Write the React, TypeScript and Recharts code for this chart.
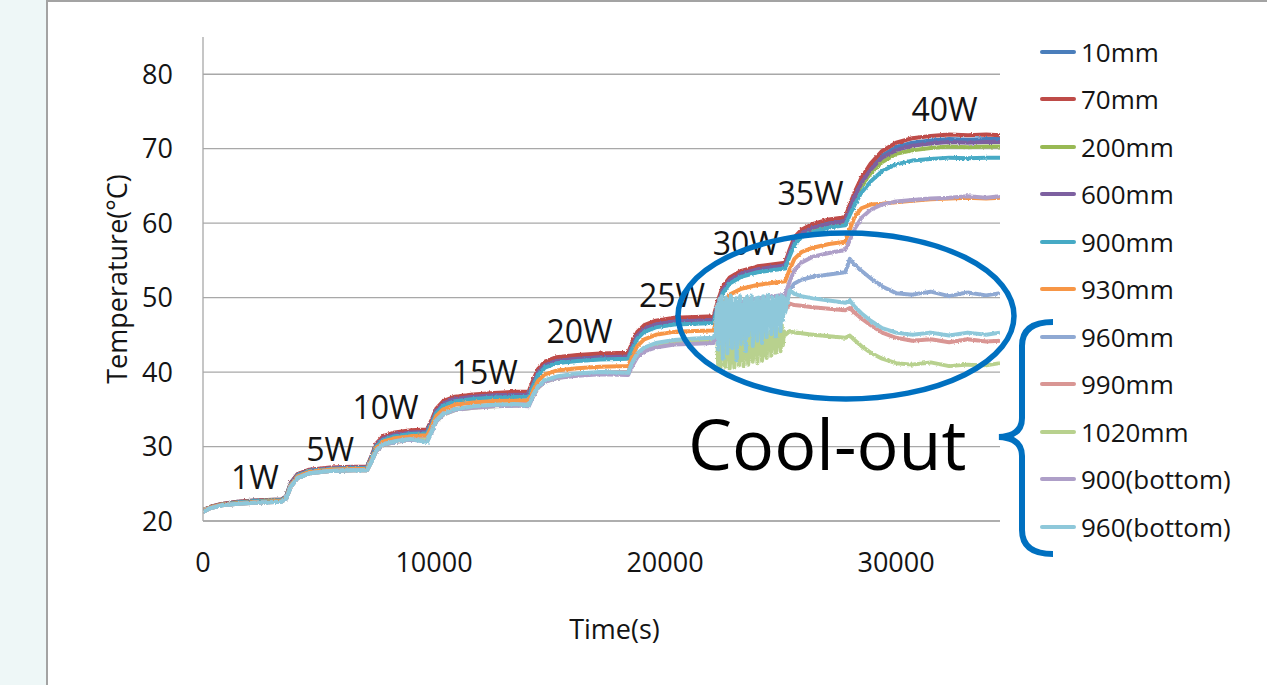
import React from "react";
import {
  LineChart,
  Line,
  XAxis,
  YAxis,
  CartesianGrid,
  ReferenceDot,
} from "recharts";

// elapsed time (s) shared by every probe
const TIME = [
  0, 300, 800, 1500, 2500, 3400,
  3600, 3800, 4100, 4600, 5500, 6500, 7100,
  7300, 7500, 7800, 8300, 9000, 9700,
  9900, 10100, 10400, 10900, 11700, 12600, 13500, 14100,
  14300, 14500, 14800, 15300, 16200, 17200, 18400,
  18600, 18800, 19100, 19600, 20400, 21300, 22100,
  22300, 22500, 22800, 23300, 24000, 24700, 25200,
  25400, 25600, 25900, 26400, 27100, 27800,
  28000, 28200, 28500, 28900, 29400, 30000, 30700, 31500, 32300, 33100, 33900, 34500,
];

const T_10MM = [
  21.4, 21.9, 22.3, 22.6, 22.8, 22.9,
  23.3, 25.1, 26.3, 26.8, 27.1, 27.2, 27.2,
  28.7, 30.2, 31.2, 31.7, 32.0, 32.1,
  33.4, 34.9, 35.9, 36.5, 36.8, 37.0, 37.05, 37.1,
  38.7, 40.1, 41.1, 41.7, 42.0, 42.2, 42.3,
  43.8, 45.1, 46.0, 46.6, 47.0, 47.1, 47.2,
  49.4, 51.2, 52.4, 53.3, 53.9, 54.2, 54.4,
  56.2, 57.8, 58.8, 59.6, 60.2, 60.5,
  62.1, 63.7, 65.7, 67.5, 69.1, 70.2, 70.8, 71.1, 71.3, 71.2, 71.3, 71.3,
];

const T_70MM = [
  21.4, 21.9, 22.3, 22.6, 22.8, 22.9,
  23.3, 25.1, 26.3, 26.9, 27.2, 27.3, 27.3,
  28.8, 30.4, 31.4, 31.9, 32.2, 32.3,
  33.6, 35.1, 36.1, 36.7, 37.0, 37.2, 37.35, 37.4,
  39.0, 40.4, 41.4, 42.0, 42.3, 42.5, 42.6,
  44.1, 45.4, 46.3, 46.9, 47.3, 47.4, 47.5,
  49.7, 51.5, 52.7, 53.6, 54.2, 54.5, 54.7,
  56.5, 58.1, 59.1, 59.9, 60.5, 60.8,
  62.5, 64.1, 66.1, 68.0, 69.7, 70.8, 71.4, 71.7, 71.9, 71.8, 71.9, 71.8,
];

const T_200MM = [
  21.3, 21.8, 22.2, 22.5, 22.7, 22.8,
  23.2, 24.9, 26.1, 26.7, 27.0, 27.1, 27.1,
  28.5, 30.1, 31.0, 31.5, 31.8, 31.9,
  33.2, 34.7, 35.7, 36.3, 36.6, 36.8, 36.85, 36.9,
  38.4, 39.8, 40.8, 41.4, 41.7, 41.9, 42.0,
  43.5, 44.8, 45.7, 46.3, 46.7, 46.8, 46.9,
  49.1, 50.9, 52.1, 53.0, 53.6, 53.9, 54.1,
  55.9, 57.4, 58.4, 59.2, 59.7, 60.1,
  61.6, 63.1, 65.0, 66.7, 68.2, 69.3, 69.8, 70.1, 70.3, 70.2, 70.3, 70.3,
];

const T_600MM = [
  21.3, 21.8, 22.2, 22.5, 22.7, 22.8,
  23.2, 25.0, 26.2, 26.8, 27.1, 27.2, 27.2,
  28.6, 30.2, 31.1, 31.6, 31.9, 32.0,
  33.3, 34.8, 35.8, 36.4, 36.7, 36.9, 36.95, 37.0,
  38.5, 39.9, 40.9, 41.5, 41.8, 42.0, 42.1,
  43.6, 44.9, 45.8, 46.4, 46.8, 46.9, 47.0,
  49.2, 51.0, 52.3, 53.2, 53.8, 54.1, 54.3,
  56.1, 57.6, 58.6, 59.4, 59.9, 60.3,
  61.9, 63.5, 65.4, 67.2, 68.8, 69.8, 70.4, 70.7, 70.9, 70.8, 70.9, 70.9,
];

const T_900MM = [
  21.3, 21.8, 22.2, 22.5, 22.7, 22.8,
  23.2, 24.9, 26.1, 26.7, 27.0, 27.1, 27.1,
  28.5, 30.0, 30.9, 31.4, 31.7, 31.8,
  33.0, 34.5, 35.5, 36.1, 36.4, 36.6, 36.65, 36.7,
  38.2, 39.6, 40.6, 41.2, 41.5, 41.7, 41.8,
  43.2, 44.5, 45.4, 46.0, 46.4, 46.5, 46.6,
  48.8, 50.6, 51.9, 52.8, 53.4, 53.7, 53.9,
  55.6, 57.1, 58.1, 58.8, 59.4, 59.7,
  61.1, 62.4, 64.1, 65.6, 67.0, 67.9, 68.4, 68.6, 68.8, 68.7, 68.8, 68.8,
];

const T_930MM = [
  21.3, 21.8, 22.2, 22.4, 22.6, 22.7,
  23.1, 24.8, 26.0, 26.6, 26.9, 27.0, 27.0,
  28.3, 29.8, 30.7, 31.1, 31.4, 31.5,
  32.7, 34.1, 35.0, 35.6, 35.9, 36.1, 36.15, 36.2,
  37.6, 38.8, 39.7, 40.2, 40.5, 40.7, 40.8,
  42.2, 43.5, 44.4, 45.0, 45.4, 45.5, 45.6,
  47.6, 49.2, 50.4, 51.2, 51.7, 52.0, 52.2,
  53.8, 55.2, 56.1, 56.7, 57.2, 57.5,
  59.2, 60.8, 62.0, 62.5, 62.6, 62.8, 63.0, 63.2, 63.3, 63.4, 63.3, 63.4,
];

const T_960MM = [
  21.2, 21.7, 22.1, 22.3, 22.5, 22.6,
  23.0, 24.6, 25.8, 26.4, 26.7, 26.8, 26.8,
  28.0, 29.5, 30.3, 30.7, 31.0, 31.0,
  32.1, 33.5, 34.4, 35.0, 35.3, 35.5, 35.6, 35.7,
  36.9, 38.0, 38.8, 39.3, 39.7, 39.9, 40.0,
  41.3, 42.4, 43.2, 43.7, 44.1, 44.2, 44.3,
  45.8, 47.0, 47.9, 48.6, 49.1, 49.4, 49.6,
  51.0, 51.9, 52.4, 52.8, 53.1, 53.4,
  55.2, 54.4, 53.6, 52.6, 51.5, 50.6, 50.4, 50.8, 50.2, 50.7, 50.3, 50.6,
];

const T_990MM = [
  21.2, 21.7, 22.1, 22.3, 22.5, 22.6,
  23.0, 24.6, 25.8, 26.4, 26.7, 26.8, 26.8,
  28.0, 29.5, 30.3, 30.7, 31.0, 31.0,
  32.1, 33.5, 34.4, 35.0, 35.3, 35.5, 35.6, 35.7,
  36.9, 38.0, 38.8, 39.3, 39.7, 39.9, 40.0,
  41.3, 42.4, 43.2, 43.8, 44.2, 44.3, 44.4,
  45.5, 46.5, 47.2, 47.7, 48.0, 48.1, 48.3,
  49.2, 49.0, 48.9, 48.7, 48.5, 48.3,
  48.6, 48.0, 47.2, 46.3, 45.3, 44.6, 44.2, 44.4, 44.0, 44.4, 44.1, 44.2,
];

// null where the 30W segment comes from the dense burst readings below
const T_1020MM = [
  21.2, 21.7, 22.1, 22.3, 22.5, 22.6,
  23.0, 24.6, 25.8, 26.4, 26.7, 26.8, 26.8,
  28.0, 29.4, 30.2, 30.6, 30.9, 30.9,
  32.0, 33.4, 34.3, 34.9, 35.2, 35.4, 35.5, 35.6,
  36.8, 37.9, 38.7, 39.2, 39.6, 39.8, 39.9,
  41.2, 42.3, 43.1, 43.7, 44.1, 44.2, 44.3,
  null, null, null, null, null, null, null,
  45.5, 45.3, 45.2, 45.0, 44.8, 44.6,
  44.9, 44.3, 43.5, 42.6, 41.8, 41.2, 41.0, 41.3, 40.8, 41.0, 40.9, 41.2,
];

const T_900B = [
  21.2, 21.7, 22.1, 22.3, 22.5, 22.6,
  23.0, 24.6, 25.8, 26.4, 26.7, 26.8, 26.8,
  28.0, 29.4, 30.2, 30.6, 30.9, 30.7,
  31.9, 33.4, 34.3, 34.9, 35.2, 35.4, 35.5, 35.4,
  36.8, 37.9, 38.7, 39.2, 39.5, 39.7, 39.6,
  40.9, 42.0, 42.8, 43.3, 43.7, 43.8, 43.9,
  45.9, 47.5, 48.6, 49.4, 49.9, 50.2, 50.4,
  52.2, 53.7, 54.7, 55.5, 56.0, 56.4,
  57.7, 59.2, 60.7, 61.8, 62.5, 62.9, 63.1, 63.3, 63.4, 63.6, 63.4, 63.6,
];

const T_960B = [
  21.2, 21.7, 22.1, 22.3, 22.5, 22.6,
  23.0, 24.6, 25.8, 26.4, 26.7, 26.8, 26.8,
  28.0, 29.5, 30.3, 30.7, 31.0, 30.6,
  32.0, 33.5, 34.4, 35.0, 35.4, 35.6, 35.7, 35.5,
  37.0, 38.1, 38.9, 39.4, 39.8, 40.0, 39.9,
  41.4, 42.5, 43.3, 43.9, 44.3, 44.5, 44.6,
  null, null, null, null, null, null, null,
  51.0, 50.5, 50.2, 49.9, 49.6, 49.3,
  49.6, 48.8, 47.9, 46.9, 45.9, 45.3, 45.0, 45.3, 44.9, 45.3, 45.0, 45.3,
];

// the unstable 30W stretch, read every 50 s
const BURST_TIME = [
  22200, 22250, 22300, 22350, 22400, 22450, 22500, 22550, 22600, 22650,
  22700, 22750, 22800, 22850, 22900, 22950, 23000, 23050, 23100, 23150,
  23200, 23250, 23300, 23350, 23400, 23450, 23500, 23550, 23600, 23650,
  23700, 23750, 23800, 23850, 23900, 23950, 24000, 24050, 24100, 24150,
  24200, 24250, 24300, 24350, 24400, 24450, 24500, 24550, 24600, 24650,
  24700, 24750, 24800, 24850, 24900, 24950, 25000, 25050, 25100, 25150, 25200,
];
const BURST_1020MM = [
  44.5, 46.0, 41.0, 45.2, 40.4, 44.6, 42.0, 46.1, 40.7, 44.0,
  41.8, 45.5, 40.5, 43.8, 41.3, 45.0, 40.6, 44.4, 42.2, 45.6,
  40.9, 43.9, 41.6, 46.0, 40.8, 44.2, 42.4, 45.3, 41.0, 44.8,
  42.0, 45.9, 41.4, 44.3, 42.6, 45.1, 41.2, 44.6, 42.9, 45.7,
  41.5, 44.0, 42.3, 46.2, 41.9, 44.9, 43.0, 45.4, 42.2, 44.7,
  43.2, 46.0, 42.6, 45.1, 43.5, 45.8, 42.8, 46.3, 43.6, 45.5, 45.0,
];
const BURST_960B = [
  45.5, 49.0, 43.0, 49.8, 44.5, 50.2, 41.8, 49.3, 45.0, 50.0,
  42.5, 49.6, 44.8, 50.3, 43.2, 49.1, 45.5, 49.9, 41.6, 49.4,
  44.6, 50.2, 43.8, 49.0, 45.2, 49.8, 42.8, 50.1, 44.9, 49.5,
  45.8, 50.3, 43.5, 49.2, 45.3, 49.9, 44.2, 50.0, 46.0, 49.4,
  43.9, 50.2, 45.6, 49.7, 44.7, 50.4, 46.2, 49.3, 45.1, 50.0,
  46.4, 49.6, 44.8, 50.2, 46.8, 49.8, 45.5, 50.3, 47.0, 49.9, 48.0,
];

const SERIES_NAMES = [
  "10mm", "70mm", "200mm", "600mm", "900mm", "930mm",
  "960mm", "990mm", "1020mm", "900(bottom)", "960(bottom)",
];
const SERIES_COLORS = [
  "#4a7ebb", "#be4b48", "#98b954", "#7d60a0", "#46aac5", "#f79646",
  "#8fa9d3", "#d99694", "#b8d18e", "#ae9fc8", "#8ec8da",
];
const SERIES_VALUES: (number | null)[][] = [
  T_10MM, T_70MM, T_200MM, T_600MM, T_900MM, T_930MM,
  T_960MM, T_990MM, T_1020MM, T_900B, T_960B,
];
const SERIES_BURST: Record<string, number[]> = {
  "1020mm": BURST_1020MM,
  "960(bottom)": BURST_960B,
};

const POWER_LABELS = [
  { t: 2250, temp: 25.8, text: "1W" },
  { t: 5500, temp: 29.6, text: "5W" },
  { t: 7900, temp: 35.2, text: "10W" },
  { t: 12200, temp: 39.9, text: "15W" },
  { t: 16300, temp: 45.4, text: "20W" },
  { t: 20300, temp: 50.2, text: "25W" },
  { t: 23500, temp: 57.3, text: "30W" },
  { t: 26300, temp: 63.9, text: "35W" },
  { t: 32100, temp: 75.2, text: "40W" },
];

const X_TICKS = [0, 10000, 20000, 30000];
const Y_TICKS = [20, 30, 40, 50, 60, 70, 80];

const FONT = "'Open Sans', sans-serif";
const INK = "#141414";
const AXIS_GREY = "#a8a8a8";

function seriesPoints(i: number) {
  const vals = SERIES_VALUES[i];
  const pts = TIME.map((t, k) => ({ t, v: vals[k] })).filter((p) => p.v != null);
  const burst = SERIES_BURST[SERIES_NAMES[i]];
  if (burst) {
    BURST_TIME.forEach((t, k) => pts.push({ t, v: burst[k] }));
    pts.sort((a, b) => a.t - b.t);
  }
  return pts;
}

function ProbeLegend() {
  return (
    <div style={{ position: "absolute", left: 1040, top: 28, fontFamily: FONT }}>
      {SERIES_NAMES.map((name, i) => (
        <div
          key={name}
          style={{ height: 47.5, display: "flex", alignItems: "center" }}
        >
          <div
            style={{
              width: 36,
              height: 4,
              borderRadius: 2,
              background: SERIES_COLORS[i],
              marginRight: 5,
            }}
          />
          <span style={{ fontSize: 26, color: INK, lineHeight: 1 }}>{name}</span>
        </div>
      ))}
    </div>
  );
}

export default function App() {
  return (
    <div
      style={{
        position: "absolute",
        left: 0,
        top: 0,
        width: 1267,
        height: 685,
        background: "#ffffff",
        overflow: "hidden",
      }}
    >
      <div
        style={{
          position: "absolute",
          left: 0,
          top: 0,
          width: 46,
          height: 685,
          background: "#eef7f7",
          borderRight: "2px solid #a3a3a3",
        }}
      />
      <div
        style={{
          position: "absolute",
          left: 46,
          top: 0,
          width: 1221,
          height: 2,
          background: "#a3a3a3",
        }}
      />

      <div style={{ position: "absolute", left: 0, top: 0 }}>
        <LineChart
          width={1267}
          height={685}
          margin={{ top: 37, right: 267, bottom: 34, left: 0 }}
          style={{ fontFamily: FONT }}
        >
          <defs>
            {/* gives the logged traces their ragged sensor-noise edge */}
            <filter id="sensorNoise" x="-2%" y="-5%" width="104%" height="110%">
              <feTurbulence
                type="fractalNoise"
                baseFrequency="0.45"
                numOctaves={2}
                seed={3}
                result="n"
              />
              <feDisplacementMap
                in="SourceGraphic"
                in2="n"
                scale={2.6}
                xChannelSelector="R"
                yChannelSelector="G"
              />
            </filter>
          </defs>
          <CartesianGrid
            vertical={false}
            horizontalValues={Y_TICKS}
            stroke={AXIS_GREY}
            strokeWidth={1.3}
          />
          <XAxis
            dataKey="t"
            type="number"
            domain={[0, 34500]}
            ticks={X_TICKS}
            allowDataOverflow
            height={130}
            tickLine={false}
            tickSize={0}
            tickMargin={32}
            axisLine={{ stroke: AXIS_GREY, strokeWidth: 1.3 }}
            tick={{ fontSize: 27, fill: INK }}
            label={{
              value: "Time(s)",
              position: "insideBottom",
              offset: 12,
              dx: 13,
              fontSize: 27,
              fill: INK,
            }}
          />
          <YAxis
            type="number"
            domain={[20, 85]}
            ticks={Y_TICKS}
            allowDataOverflow
            width={203}
            tickLine={false}
            tickSize={0}
            tickMargin={30}
            axisLine={{ stroke: AXIS_GREY, strokeWidth: 1.3 }}
            tick={{ fontSize: 27, fill: INK }}
            label={{
              value: "Temperature(°C)",
              angle: -90,
              position: "insideLeft",
              offset: 117,
              fontSize: 27,
              fill: INK,
              style: { textAnchor: "middle" },
            }}
          />
          {SERIES_NAMES.map((name, i) => (
            <Line
              key={name}
              name={name}
              data={seriesPoints(i)}
              dataKey="v"
              type="linear"
              stroke={SERIES_COLORS[i]}
              strokeWidth={4}
              strokeLinejoin="round"
              filter="url(#sensorNoise)"
              dot={false}
              isAnimationActive={false}
            />
          ))}
          {POWER_LABELS.map((p) => (
            <ReferenceDot
              key={p.text}
              x={p.t}
              y={p.temp}
              r={0}
              fill="none"
              stroke="none"
              label={{ value: p.text, position: "center", fontSize: 32, fill: INK }}
            />
          ))}
        </LineChart>
      </div>

      <ProbeLegend />

      <svg
        width={1267}
        height={685}
        style={{ position: "absolute", left: 0, top: 0, pointerEvents: "none" }}
      >
        <ellipse
          cx={846}
          cy={316}
          rx={168}
          ry={83}
          fill="none"
          stroke="#0070c0"
          strokeWidth={5.5}
        />
        <path
          d="M1053,322 Q1022,322 1022,346 L1022,418 Q1022,436 999,437 Q1022,438 1022,456 L1022,530 Q1022,554 1053,554"
          fill="none"
          stroke="#0070c0"
          strokeWidth={6}
        />
        <text x={688} y={470} fontFamily={FONT} fontSize={70} fill="#000">
          Cool-out
        </text>
      </svg>
    </div>
  );
}
